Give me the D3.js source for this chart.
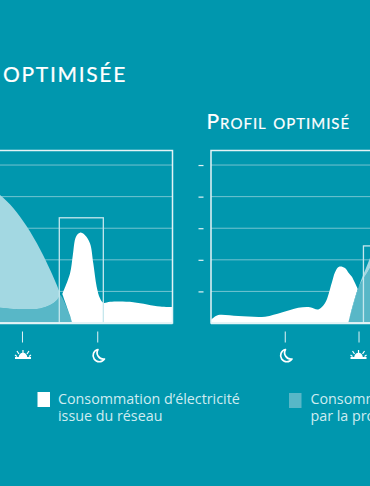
<!DOCTYPE html>
<html>
<head>
<meta charset="utf-8">
<script src="https://cdn.jsdelivr.net/npm/d3@7"></script>
<style>
  html, body { margin: 0; padding: 0; background: #0097ae; overflow: hidden; }
  svg { display: block; }
</style>
</head>
<body>
<div id="chart"></div>
<script>
// values: x = hour of the day (runs past 24), y = grid units
const gridTicks = [1, 2, 3, 4, 5];
const sunHour = 8, moonHour = 20;

// left chart
const leftProdHours = [3, 4.5, 6.6, 8.75, 10.9, 12.5, 13.5, 14.06];
const leftProd = [4.25, 4.05, 3.64, 3.06, 2.33, 1.68, 1.23, 0.95];
const leftSelfTop = [0.47, 0.48, 0.44, 0.44, 0.46, 0.57, 0.71, 0.89];
const leftSelfHours = [3, 4.5, 6.6, 8.75, 10.9, 12.5, 13.5, 14.06, 16.09];
const leftSelf = [0.47, 0.48, 0.44, 0.44, 0.46, 0.57, 0.71, 0.89, 0];
const leftGridHours = [14.43, 15.66, 16.09, 16.61, 17.25, 18.05, 18.85, 19.37, 19.91, 20.44, 20.97, 22.04, 25.75, 30.01, 32];
const leftGrid = [0.92, 1.57, 2.12, 2.73, 2.86, 2.78, 2.52, 1.89, 1.15, 0.78, 0.64, 0.67, 0.66, 0.52, 0.5];
const leftGridLow = [0.92, 0.24, 0, 0, 0, 0, 0, 0, 0, 0, 0, 0, 0, 0, 0];
const leftBox = { from: 13.95, to: 20.97, value: 3.33 };

// right chart
const rightGridHours = [8, 8.5, 9.19, 12.44, 16.79, 19.5, 22.2, 24.1, 25.46, 26.55, 27.64, 28.18, 28.83, 29.8, 30.34, 30.89, 31.87];
const rightGrid = [0.1, 0.18, 0.25, 0.22, 0.2, 0.33, 0.48, 0.5, 0.43, 0.63, 1.27, 1.61, 1.78, 1.74, 1.6, 1.47, 1.08];
const rightGridLow = [0, 0, 0, 0, 0, 0, 0, 0, 0, 0, 0, 0, 0, 0, 0, 0.4, 1.08];
const rightSelfHours = [30.34, 31.96, 33.87, 35];
const rightSelf = [0, 1.1, 1.74, 2.2];
const rightProd = [0, 1.1, 2.06, 2.6];
const rightBox = { from: 32.8, to: 40, value: 2.44 };

const titleLeft = "OPTIMISÉE";
const titleRight = "Profil optimisé";
const legendGrid = ["Consommation d’électricité", "issue du réseau"];
const legendSelf = ["Consommation", "par la production"];

const width = 370, height = 486;
const white = "#ffffff", pale = "#a3d8e2", teal = "#58b7c7", line = "#e3f3f6";

const svg = d3.select("#chart").append("svg")
    .attr("width", width)
    .attr("height", height)
    .attr("viewBox", [0, 0, width, height]);

const y = d3.scaleLinear().domain([0, 5.46]).range([323, 150.5]);

const area = (xs, tops, lows, x) => d3.area()
    .x((d, i) => x(xs[i]))
    .y1((d, i) => y(tops[i]))
    .y0((d, i) => y(lows ? lows[i] : 0))
    .curve(d3.curveCatmullRom.alpha(0.5))(xs);

function frame(x, h0, h1, tickHours) {
    const g = svg.append("g");

    g.selectAll(".grid").data(gridTicks).enter().append("line")
        .attr("x1", x(h0)).attr("x2", x(h1))
        .attr("y1", d => y(d)).attr("y2", d => y(d))
        .attr("stroke", "#73c4d1").attr("stroke-width", 1);

    // moon and sun ticks under the plot
    const axis = g.append("g")
        .attr("transform", "translate(0,331.5)")
        .call(d3.axisBottom(x).tickValues(tickHours).tickSize(11).tickFormat(""));
    axis.select(".domain").remove();
    axis.selectAll("line").attr("stroke", line).attr("stroke-width", 1);
}

function drawBox(x, box) {
    svg.append("rect")
        .attr("x", x(box.from)).attr("y", y(box.value))
        .attr("width", x(box.to) - x(box.from))
        .attr("height", y(0) - y(box.value))
        .attr("fill", "none")
        .attr("stroke", "#c5e7ed").attr("stroke-width", 1.3);
}

function drawBorder(x, h0, h1) {
    svg.append("rect")
        .attr("x", x(h0)).attr("y", y(5.46))
        .attr("width", x(h1) - x(h0))
        .attr("height", y(0) - y(5.46))
        .attr("fill", "none")
        .attr("stroke", line).attr("stroke-width", 1.5);
    svg.append("line")
        .attr("x1", x(h0)).attr("x2", x(h1))
        .attr("y1", y(0) + 0.3).attr("y2", y(0) + 0.3)
        .attr("stroke", line).attr("stroke-width", 2);
}

function sunIcon(cx) {
    const g = svg.append("g").attr("transform", `translate(${cx},358)`)
        .attr("fill", "none").attr("stroke", white).attr("stroke-width", 1.5);
    g.append("line").attr("x1", -8).attr("x2", 8).attr("y1", 0).attr("y2", 0).attr("stroke-width", 2);
    g.append("path").attr("d", "M-3.5,-1 A3.5,3.5 0 0 1 3.5,-1").attr("fill", white);
    g.append("path").attr("d", "M0,-5 V-8 M-4,-4 L-6,-7 M4,-4 L6,-7 M-6,-1.5 L-8,-3 M6,-1.5 L8,-3").attr("stroke-width", 1.2);
}

function moonIcon(cx) {
    svg.append("path")
        .attr("transform", `translate(${cx + 1.2},355.5)`)
        .attr("fill", "none")
        .attr("stroke", white)
        .attr("stroke-width", 1.7)
        .attr("stroke-linejoin", "round")
        .attr("d", "M-0.5,-6 A6.2,6.2 0 1 0 6,3.5 A6.4,6.4 0 0 1 -0.5,-6 Z");
}

// ---- left chart
const xLeft = d3.scaleLinear().domain([0, 32]).range([-28.2, 172.5]);
frame(xLeft, 0, 32, [sunHour, moonHour]);
svg.append("path").attr("d", area(leftSelfHours, leftSelf, null, xLeft)).attr("fill", teal);
svg.append("path").attr("d", area(leftProdHours, leftProd, leftSelfTop, xLeft)).attr("fill", pale);
svg.append("path").attr("d", area(leftGridHours, leftGrid, leftGridLow, xLeft)).attr("fill", white);
drawBox(xLeft, leftBox);
drawBorder(xLeft, 0, 32);
sunIcon(xLeft(sunHour) + 1);
moonIcon(xLeft(moonHour));

// ---- right chart
const xRight = d3.scaleLinear().domain([8, 40]).range([211, 407.7]);
frame(xRight, 8, 40, [moonHour, sunHour + 24]);
svg.append("path").attr("d", area(rightGridHours, rightGrid, rightGridLow, xRight)).attr("fill", white);
svg.append("path").attr("d", area(rightSelfHours, rightSelf, null, xRight)).attr("fill", teal);
svg.append("path").attr("d", area(rightSelfHours, rightProd, rightSelf, xRight)).attr("fill", pale);
drawBox(xRight, rightBox);
drawBorder(xRight, 8, 40);
sunIcon(xRight(sunHour + 24));
moonIcon(xRight(moonHour));

// value ticks on the right chart only, the left one falls off the page
const yAxis = svg.append("g")
    .attr("transform", "translate(203.5,0)")
    .call(d3.axisLeft(y).tickValues(gridTicks).tickSize(5).tickFormat(""));
yAxis.select(".domain").remove();
yAxis.selectAll("line").attr("stroke", line).attr("stroke-width", 1.2);

// ---- titles
svg.append("text")
    .attr("x", 127).attr("y", 82)
    .attr("text-anchor", "end")
    .attr("font-family", "Lato")
    .attr("font-size", 21)
    .attr("letter-spacing", 1.7)
    .attr("stroke", white).attr("stroke-width", 0.2)
    .attr("fill", white)
    .text(titleLeft);

svg.append("text")
    .attr("x", 206.5).attr("y", 129)
    .attr("font-family", "Lato")
    .attr("font-size", 21)
    .attr("letter-spacing", 1)
    .style("font-variant", "small-caps")
    .attr("stroke", white).attr("stroke-width", 0.2)
    .attr("fill", white)
    .text(titleRight);

// ---- legend
function legend(swatchX, swatchY, fill, textX, lines) {
    svg.append("rect")
        .attr("x", swatchX).attr("y", swatchY)
        .attr("width", 12.5).attr("height", 15)
        .attr("fill", fill);
    svg.selectAll(null).data(lines).enter().append("text")
        .attr("x", textX)
        .attr("y", (d, i) => 403.5 + i * 17.5)
        .attr("font-family", "Open Sans")
        .attr("font-size", 14.3)
        .attr("fill", "#cfecf1")
        .text(d => d);
}

legend(37.5, 392, white, 58, legendGrid);
legend(289, 393, teal, 310.5, legendSelf);
</script>
</body>
</html>
